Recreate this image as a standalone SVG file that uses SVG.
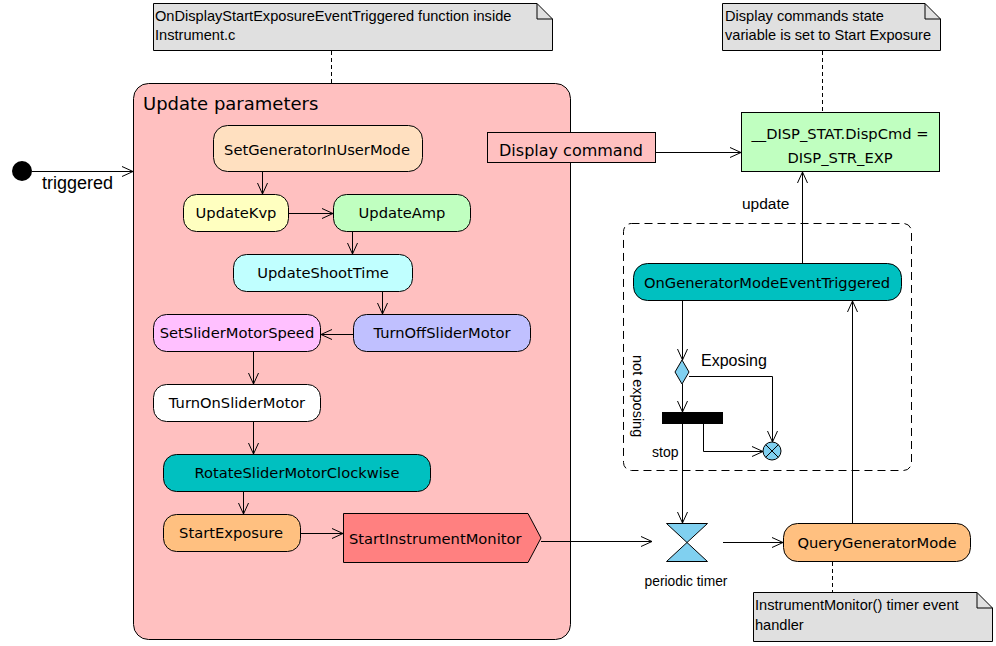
<svg xmlns="http://www.w3.org/2000/svg" width="996" height="646" viewBox="0 0 996 646">
<defs>
<marker id="arr" markerUnits="userSpaceOnUse" markerWidth="14" markerHeight="14" refX="11" refY="6" orient="auto">
<path d="M0,1 L11,6 L0,11" fill="none" stroke="#000" stroke-width="1"/>
</marker>
<style>
.n{stroke:#000;stroke-width:1}
.t{font-family:"DejaVu Sans",sans-serif;font-size:14.7px;fill:#000;text-anchor:middle}
.a{font-family:"Liberation Sans",Arial,sans-serif;fill:#000}
.c{fill:none;stroke:#000;stroke-width:1}
.note{fill:#e0e0e0;stroke:#000;stroke-width:1}
.d{fill:none;stroke:#000;stroke-width:1;stroke-dasharray:4,3}
</style>
</defs>
<rect width="996" height="646" fill="#fff"/>

<g id="container">
<rect x="133.5" y="83.5" width="437" height="556" rx="15" fill="#ffc0c0" class="n"/>
<text x="143" y="110" style="font-family:'DejaVu Sans',sans-serif;font-size:18px">Update parameters</text>
</g>

<g id="note1">
<path class="note" d="M153.5,3.5 H537 L552.5,19 V50.5 H153.5 Z"/>
<path class="c" d="M537,3.5 V19 H552.5"/>
<text class="a" x="155" y="21" font-size="14.6">OnDisplayStartExposureEventTriggered function inside</text>
<text class="a" x="155" y="40" font-size="14.6">Instrument.c</text>
</g>
<g id="note2">
<path class="note" d="M722.5,3.5 H925 L940.5,19 V50.5 H722.5 Z"/>
<path class="c" d="M925,3.5 V19 H940.5"/>
<text class="a" x="725" y="21" font-size="14.6">Display commands state</text>
<text class="a" x="725" y="40" font-size="14.6">variable is set to Start Exposure</text>
</g>
<g id="note3">
<path class="note" d="M753.5,592.5 H977 L992.5,608 V641.5 H753.5 Z"/>
<path class="c" d="M977,592.5 V608 H992.5"/>
<text class="a" x="755" y="610" font-size="14.6">InstrumentMonitor() timer event</text>
<text class="a" x="755" y="630" font-size="14.6">handler</text>
</g>

<g id="start">
<circle cx="22" cy="171" r="10" fill="#000"/>
<text class="a" x="42" y="189" font-size="18">triggered</text>
</g>

<g id="SetGeneratorInUserMode"><rect x="213.5" y="125.5" width="209" height="46" rx="14" fill="#ffe0c0" class="n"/><text class="t" x="317" y="155">SetGeneratorInUserMode</text></g>
<g id="UpdateKvp"><rect x="183.5" y="194.5" width="105" height="37" rx="13" fill="#ffffc0" class="n"/><text class="t" x="236" y="218">UpdateKvp</text></g>
<g id="UpdateAmp"><rect x="333.5" y="194.5" width="137" height="37" rx="13" fill="#c0ffc0" class="n"/><text class="t" x="402" y="218">UpdateAmp</text></g>
<g id="UpdateShootTime"><rect x="233.5" y="254.5" width="179" height="37" rx="13" fill="#c0ffff" class="n"/><text class="t" x="323" y="278">UpdateShootTime</text></g>
<g id="SetSliderMotorSpeed"><rect x="153.5" y="314.5" width="167" height="37" rx="13" fill="#ffc0ff" class="n"/><text class="t" x="237" y="338">SetSliderMotorSpeed</text></g>
<g id="TurnOffSliderMotor"><rect x="353.5" y="314.5" width="177" height="37" rx="13" fill="#c0c0ff" class="n"/><text class="t" x="442" y="338">TurnOffSliderMotor</text></g>
<g id="TurnOnSliderMotor"><rect x="153.5" y="384.5" width="167" height="37" rx="13" fill="#ffffff" class="n"/><text class="t" x="237" y="408">TurnOnSliderMotor</text></g>
<g id="RotateSliderMotorClockwise"><rect x="163.5" y="454.5" width="267" height="37" rx="13" fill="#00c0c0" class="n"/><text class="t" x="297" y="478">RotateSliderMotorClockwise</text></g>
<g id="StartExposure"><rect x="163.5" y="514.5" width="137" height="37" rx="13" fill="#ffc080" class="n"/><text class="t" x="231" y="538">StartExposure</text></g>
<g id="StartInstrumentMonitor"><path d="M343.5,513.5 H528 L541,538 L528,562.5 H343.5 Z" fill="#ff8080" class="n"/><text class="t" x="349" y="544" style="text-anchor:start">StartInstrumentMonitor</text></g>

<g id="DisplayCommand"><rect x="487.5" y="132.5" width="168" height="30" fill="#ffc0c0" class="n"/><text class="t" x="571" y="156" style="font-size:16px">Display command</text></g>
<g id="DispCmd"><rect x="741.5" y="112.5" width="198" height="59" fill="#c0ffc0" class="n"/><text class="t" x="840" y="139">__DISP_STAT.DispCmd =</text><text class="t" x="840" y="163">DISP_STR_EXP</text></g>

<g id="region"><rect x="623.5" y="223.5" width="288" height="247" rx="8" class="d" style="stroke-dasharray:8,5"/></g>

<g id="OnGeneratorModeEventTriggered"><rect x="633.5" y="263.5" width="268" height="37" rx="14" fill="#00c0c0" class="n"/><text class="t" x="767" y="288">OnGeneratorModeEventTriggered</text></g>
<g id="decision"><path d="M682,360 L689,372 L682,384 L675,372 Z" fill="#80d0f0" class="n"/></g>
<g id="fork"><rect x="662" y="412" width="61" height="12" fill="#000"/></g>
<g id="flowfinal"><circle cx="772" cy="451" r="9" fill="#80d0f0" class="n"/><path class="c" d="M765.6,444.6 L778.4,457.4 M778.4,444.6 L765.6,457.4"/></g>
<g id="timer"><path d="M666.5,523.5 H707.5 L666.5,561.5 H707.5 Z" fill="#80d0f0" class="n"/><text class="a" x="686" y="586" font-size="13.8" text-anchor="middle">periodic timer</text></g>
<g id="QueryGeneratorMode"><rect x="783.5" y="523.5" width="187" height="38" rx="14" fill="#ffc080" class="n"/><text class="t" x="877" y="548">QueryGeneratorMode</text></g>

<g id="connectors">
<path class="c" marker-end="url(#arr)" d="M32,171.5 H133"/>
<path class="c" marker-end="url(#arr)" d="M262.5,172 V194"/>
<path class="c" marker-end="url(#arr)" d="M289,213.5 H333"/>
<path class="c" marker-end="url(#arr)" d="M352.5,232 V254"/>
<path class="c" marker-end="url(#arr)" d="M382.5,292 V314"/>
<path class="c" marker-end="url(#arr)" d="M353,334.5 H321"/>
<path class="c" marker-end="url(#arr)" d="M253.5,352 V384"/>
<path class="c" marker-end="url(#arr)" d="M253.5,422 V454"/>
<path class="c" marker-end="url(#arr)" d="M243.5,492 V514"/>
<path class="c" marker-end="url(#arr)" d="M301,533.5 H343"/>
<path class="c" marker-end="url(#arr)" d="M541,541.5 H652"/>
<path class="c" marker-end="url(#arr)" d="M723,542.5 H783"/>
<path class="c" marker-end="url(#arr)" d="M852.5,523 V301"/>
<path class="c" marker-end="url(#arr)" d="M656,152.5 H741"/>
<path class="c" marker-end="url(#arr)" d="M802.5,263 V172"/>
<path class="c" marker-end="url(#arr)" d="M682.5,301 V360"/>
<path class="c" marker-end="url(#arr)" d="M689,376.5 H772.5 V442"/>
<path class="c" marker-end="url(#arr)" d="M682.5,384 V412"/>
<path class="c" marker-end="url(#arr)" d="M703.5,424 V451.5 H763"/>
<path class="c" marker-end="url(#arr)" d="M682.5,424 V523"/>
<path class="d" d="M331.5,51 V83"/>
<path class="d" d="M822.5,51 V112"/>
<path class="d" d="M832.5,562 V592"/>
<text class="a" x="742" y="209" font-size="15.5">update</text>
<text class="a" x="701" y="366" font-size="16">Exposing</text>
<text class="a" x="652" y="457" font-size="14">stop</text>
<text class="a" font-size="14.5" transform="translate(633,355) rotate(90)">not exposing</text>
</g>
</svg>
